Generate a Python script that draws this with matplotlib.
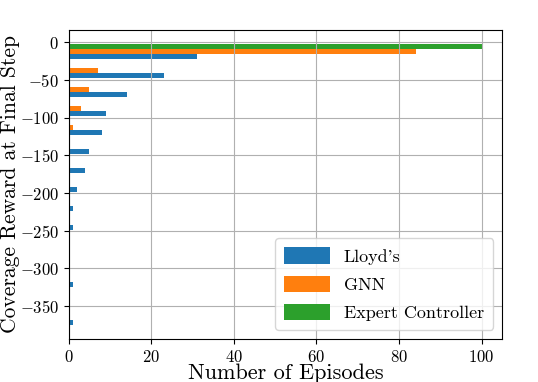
import numpy as np
import matplotlib
matplotlib.use("Agg")
import matplotlib.pyplot as plt

plt.rcParams["font.family"] = "cmr10"
plt.rcParams["mathtext.fontset"] = "cm"
plt.rcParams["axes.formatter.use_mathtext"] = True

# histogram bins of the final-step coverage reward
bin_lo, bin_hi, n_bins = -377.5, 0.5, 15
labels = ["Lloyd's", "GNN", "Expert Controller"]
colors = ["#1f77b4", "#ff7f0e", "#2ca02c"]
# episode counts per bin, top bin first
lloyd_counts = [31, 23, 14, 9, 8, 5, 4, 2, 1, 1, 0, 0, 1, 0, 1]
gnn_counts = [84, 7, 5, 3, 1, 0, 0, 0, 0, 0, 0, 0, 0, 0, 0]
expert_counts = [100, 0, 0, 0, 0, 0, 0, 0, 0, 0, 0, 0, 0, 0, 0]

edges = np.linspace(bin_lo, bin_hi, n_bins + 1)
centers = 0.5 * (edges[:-1] + edges[1:])[::-1]

fig = plt.figure(figsize=(5.38, 3.82), dpi=100)
ax = fig.add_axes([0.1277, 0.1126, 0.8059, 0.8097])
ax.hist([centers, centers, centers], bins=edges,
        weights=[lloyd_counts, gnn_counts, expert_counts],
        orientation="horizontal", color=colors, label=labels)
ax.grid(True)
ax.tick_params(labelsize=12)
ax.set_xlabel("Number of Episodes", fontsize=16, labelpad=-1)
ax.set_ylabel("Coverage Reward at Final Step", fontsize=15.5, labelpad=-0.5)
ax.legend(loc="lower right", fontsize=13, handlelength=2.5, handleheight=1.0,
          labelspacing=0.6, borderpad=0.5)

fig.savefig("out.png", dpi=100)
